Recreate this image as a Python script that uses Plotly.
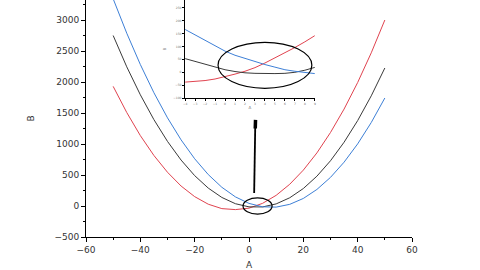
import plotly.graph_objects as go

# Main chart data
x_main = [-50, -45, -40, -35, -30, -25, -20, -15, -10, -5, 0, 5, 10, 15, 20, 25, 30, 35, 40, 45, 50]
red_main = [1930, 1508, 1136, 815, 544, 322, 151, 29, -42, -58, -35, 43, 172, 351, 579, 857, 1186, 1564, 1992, 2471, 3000]
black_main = [2750, 2245, 1794, 1393, 1042, 741, 490, 289, 138, 37, -14, -15, 34, 133, 282, 481, 730, 1029, 1378, 1777, 2226]
blue_main = [3342, 2787, 2282, 1827, 1422, 1067, 762, 507, 302, 147, 42, -13, -18, 27, 122, 267, 462, 707, 1002, 1347, 1742]

# Inset (zoomed) data
x_inset = [-4, -3, -2, -1, 0, 1, 2, 3, 4, 5, 6, 7, 8, 9]
blue_inset = [166, 145, 125, 102, 82, 66, 53, 40, 30, 20, 10, 4, 0, -5]
black_inset = [53, 42, 31, 20, 10, 3, -2, -4, -5, -5, -4, 0, 8, 19]
red_inset = [-38, -36, -32, -26, -17, -7, 4, 18, 36, 55, 76, 96, 118, 142]

RED = "#e0434f"
BLACK = "#3a3a3a"
BLUE = "#3d7fd6"

fig = go.Figure()
for ys, c in [(red_main, RED), (black_main, BLACK), (blue_main, BLUE)]:
    fig.add_trace(go.Scatter(x=x_main, y=ys, mode="lines", line=dict(color=c, width=1),
                             xaxis="x", yaxis="y", showlegend=False))
for ys, c in [(red_inset, RED), (black_inset, BLACK), (blue_inset, BLUE)]:
    fig.add_trace(go.Scatter(x=x_inset, y=ys, mode="lines", line=dict(color=c, width=1),
                             xaxis="x2", yaxis="y2", showlegend=False))

axis_common = dict(showgrid=False, zeroline=False, showline=True, linecolor="black",
                   linewidth=1, ticks="outside", tickcolor="black", automargin=False)

fig.update_layout(
    width=480, height=270,
    margin=dict(l=86, r=68, t=0, b=33),
    paper_bgcolor="white", plot_bgcolor="white",
    font=dict(family="DejaVu Sans", color="#333333", size=9),
    xaxis=dict(**axis_common, range=[-60, 60], dtick=20, ticklen=4,
               minor=dict(ticks="outside", dtick=10, ticklen=2, tickcolor="black"),
               title=dict(text="A", standoff=11, font=dict(size=9))),
    yaxis=dict(**axis_common, range=[-500, 3323], dtick=500, ticklen=4,
               minor=dict(ticks="outside", dtick=250, ticklen=2, tickcolor="black"),
               title=dict(text="B", standoff=18, font=dict(size=9))),
    xaxis2=dict(**axis_common, domain=[0.304, 0.702], anchor="y2", range=[-4, 9], dtick=1,
                ticklen=2, tickfont=dict(size=3, color="#777"),
                title=dict(text="A", standoff=1, font=dict(size=4, color="#777"))),
    yaxis2=dict(**axis_common, domain=[0.586, 1.0], anchor="x2", range=[-100, 280], dtick=50,
                ticklen=2, tickfont=dict(size=3, color="#777"),
                title=dict(text="B", standoff=6, font=dict(size=4, color="#777"))),
)

# Ellipses
fig.add_shape(type="circle", xref="x", yref="y", x0=-2.2, x1=8.5, y0=-130, y1=130,
              line=dict(color="black", width=1.2))
fig.add_shape(type="circle", xref="x2", yref="y2", x0=-0.7, x1=8.7, y0=-62, y1=116,
              line=dict(color="black", width=1.2))

# Arrow (thin shaft with a thick block head) pointing up toward the inset
fig.add_shape(type="line", xref="x", yref="y", x0=1.9, y0=210, x1=2.3, y1=1300,
              line=dict(color="black", width=1.8))
fig.add_shape(type="line", xref="x", yref="y", x0=2.3, y0=1250, x1=2.4, y1=1390,
              line=dict(color="black", width=3.5))

fig.write_html("out.html")
